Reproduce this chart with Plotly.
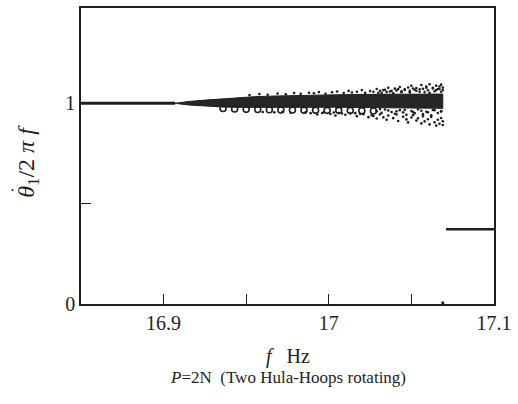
import plotly.graph_objects as go

# ---- data ----
# locked branch (ratio = 1)
line_f = [16.85, 16.907]
line_y = [1.0, 1.0]

# dense core of the quasi-periodic cloud (envelope)
core_f = [16.907, 16.915, 16.925, 16.935, 16.945, 16.955, 16.97, 16.985, 17.0, 17.015, 17.03, 17.045, 17.06, 17.069]
core_up = [1.000, 1.009, 1.016, 1.022, 1.028, 1.033, 1.037, 1.040, 1.042, 1.044, 1.045, 1.046, 1.046, 1.046]
core_lo = [1.000, 0.992, 0.986, 0.982, 0.980, 0.979, 0.979, 0.980, 0.981, 0.981, 0.980, 0.978, 0.976, 0.975]

# loop-like samples just below the core
loop_f = [16.936, 16.943, 16.950, 16.957, 16.964, 16.971, 16.978, 16.985, 16.992, 16.999, 17.006, 17.013, 17.020, 17.027]
loop_y = [0.974, 0.972, 0.970, 0.969, 0.968, 0.967, 0.967, 0.966, 0.966, 0.965, 0.965, 0.964, 0.963, 0.962]

# scattered samples around the cloud
scat_f = [16.952, 16.958, 16.963, 16.969, 16.974, 16.979, 16.983, 16.988,
          16.991, 16.994, 16.998, 17.002, 17.005, 17.009, 17.012, 17.014, 17.017, 17.020, 17.022, 17.025,
          16.989, 16.993, 16.997, 17.001, 17.004, 17.006, 17.010, 17.013, 17.017, 17.021, 17.024, 17.026,
          17.027, 17.029, 17.031, 17.032, 17.034, 17.036, 17.037, 17.040, 17.041, 17.043, 17.044, 17.046,
          17.048, 17.049, 17.050, 17.052, 17.053, 17.055, 17.056, 17.057, 17.059, 17.060, 17.061, 17.063,
          17.064, 17.065, 17.066, 17.067, 17.068, 17.069, 17.069,
          17.027, 17.029, 17.031, 17.033, 17.035, 17.036, 17.039, 17.041, 17.042, 17.045, 17.047, 17.048,
          17.050, 17.051, 17.053, 17.054, 17.056, 17.057, 17.058, 17.060, 17.061, 17.062, 17.064, 17.065,
          17.066, 17.067, 17.068, 17.069, 17.069,
          17.029, 17.032, 17.034, 17.038, 17.040, 17.043, 17.045, 17.047, 17.050, 17.052, 17.054, 17.057,
          17.059, 17.062, 17.063, 17.066, 17.068,
          17.030, 17.035, 17.039, 17.044, 17.049, 17.053, 17.058, 17.061, 17.065, 17.068,
          16.960, 16.967, 16.972, 16.977, 16.986, 16.996, 17.003, 17.008, 17.016, 17.019,
          17.033, 17.038, 17.042, 17.046, 17.051, 17.055, 17.059, 17.063, 17.067,
          17.031, 17.036, 17.041, 17.046, 17.051, 17.056, 17.060, 17.064, 17.068]
scat_y = [1.041, 1.046, 1.043, 1.049, 1.045, 1.051, 1.047, 1.053,
          1.050, 1.056, 1.048, 1.055, 1.059, 1.051, 1.062, 1.054, 1.058, 1.066, 1.052, 1.061,
          0.951, 0.944, 0.956, 0.947, 0.939, 0.952, 0.943, 0.950, 0.936, 0.946, 0.931, 0.941,
          1.058, 1.071, 1.063, 1.052, 1.068, 1.077, 1.059, 1.073, 1.064, 1.081, 1.055, 1.070,
          1.079, 1.062, 1.087, 1.068, 1.076, 1.058, 1.091, 1.072, 1.083, 1.065, 1.095, 1.077,
          1.060, 1.088, 1.071, 1.084, 1.093, 1.067, 1.079,
          0.937, 0.924, 0.945, 0.930, 0.918, 0.939, 0.926, 0.944, 0.912, 0.933, 0.920, 0.905,
          0.929, 0.941, 0.914, 0.925, 0.900, 0.936, 0.910, 0.921, 0.895, 0.932, 0.906, 0.889,
          0.918, 0.898, 0.927, 0.892, 0.911,
          0.961, 0.953, 0.969, 0.957, 0.948, 0.966, 0.955, 0.943, 0.962, 0.951, 0.970, 0.946,
          0.958, 0.940, 0.967, 0.952, 0.961,
          1.052, 1.057, 1.050, 1.060, 1.054, 1.063, 1.056, 1.052, 1.066, 1.058,
          0.957, 0.955, 0.958, 0.953, 0.956, 0.952, 0.954, 0.949, 0.951, 0.947,
          1.066, 1.062, 1.071, 1.067, 1.074, 1.070, 1.078, 1.074, 1.071,
          0.972, 0.964, 0.960, 0.968, 0.957, 0.963, 0.955, 0.966, 0.959]

# jump point and the lower branch
drop_f = [17.069]
drop_y = [0.006]
low_f = [17.071, 17.1]
low_y = [0.373, 0.373]

INK = "#1e1e1e"
FONT = "Liberation Serif"

fig = go.Figure()
fig.add_trace(go.Scatter(x=line_f, y=line_y, mode="lines",
                         line=dict(color=INK, width=3), hoverinfo="skip"))
fig.add_trace(go.Scatter(x=core_f + core_f[::-1], y=core_up + core_lo[::-1],
                         mode="lines", fill="toself", fillcolor="#262626",
                         line=dict(color=INK, width=1), hoverinfo="skip"))
fig.add_trace(go.Scatter(x=loop_f, y=loop_y, mode="markers",
                         marker=dict(symbol="circle-open", size=6, color=INK,
                                     line=dict(width=1.6, color=INK)), hoverinfo="skip"))
fig.add_trace(go.Scatter(x=scat_f, y=scat_y, mode="markers",
                         marker=dict(size=2.6, color=INK), hoverinfo="skip"))
fig.add_trace(go.Scatter(x=drop_f, y=drop_y, mode="markers",
                         marker=dict(size=3, color=INK), hoverinfo="skip"))
fig.add_trace(go.Scatter(x=low_f, y=low_y, mode="lines",
                         line=dict(color=INK, width=2.5), hoverinfo="skip"))

fig.update_layout(
    width=518, height=404,
    margin=dict(l=81, r=19, t=6, b=100),
    paper_bgcolor="white", plot_bgcolor="white",
    showlegend=False,
    font=dict(family=FONT, size=20, color=INK),
    xaxis=dict(range=[16.85, 17.1], tickvals=[16.9, 16.95, 17.0, 17.05, 17.1],
               ticktext=["16.9", "", "17", "", "17.1"],
               ticks="inside", ticklen=10, tickwidth=1.2, tickcolor=INK,
               showline=True, linecolor=INK, linewidth=1.5, mirror=True,
               showgrid=False, zeroline=False),
    yaxis=dict(range=[0, 1.475], tickvals=[0, 0.5, 1.0], ticktext=["0", "", "1"],
               ticks="inside", ticklen=10, tickwidth=1.2, tickcolor=INK,
               showline=True, linecolor=INK, linewidth=1.5, mirror=True,
               showgrid=False, zeroline=False),
    annotations=[
        dict(text="<i>f</i>&nbsp;&nbsp;&nbsp;Hz", x=0.5, y=-0.178, xref="paper", yref="paper",
             showarrow=False, font=dict(family=FONT, size=20, color=INK),
             xanchor="center", yanchor="middle"),
        dict(text="<i>P</i>=2N&nbsp;&nbsp;(Two Hula-Hoops rotating)", x=0.5, y=-0.248,
             xref="paper", yref="paper", showarrow=False,
             font=dict(family=FONT, size=17, color=INK),
             xanchor="center", yanchor="middle"),
        dict(text="<i>θ</i><sub>1</sub>/2 <i>π f</i>", x=-0.129, y=0.483,
             xref="paper", yref="paper", showarrow=False, textangle=-90,
             font=dict(family=FONT, size=24, color=INK),
             xanchor="center", yanchor="middle"),
        dict(text="•", x=-0.165, y=0.385, xref="paper", yref="paper",
             showarrow=False, font=dict(family=FONT, size=8, color=INK),
             xanchor="center", yanchor="middle"),
    ],
)

fig.write_html("out.html", config={"displayModeBar": False},
               post_script="document.body.style.margin='0';")
